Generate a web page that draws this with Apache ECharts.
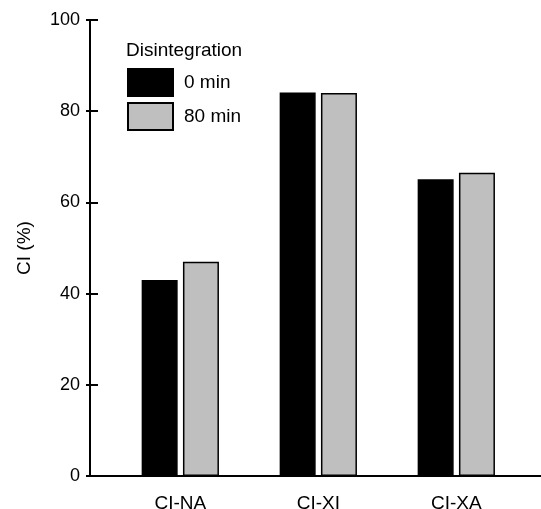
<!DOCTYPE html>
<html>
<head>
<meta charset="utf-8">
<script src="https://cdn.jsdelivr.net/npm/echarts@6/dist/echarts.min.js"></script>
<style>
html,body{margin:0;padding:0;background:#fff;}
#chart{width:541px;height:509px;}
</style>
</head>
<body>
<div id="chart"></div>
<script>
var categories = ['CI-NA', 'CI-XI', 'CI-XA'];
var series0min = [43.0, 84.1, 65.1];
var series80min = [47.0, 84.0, 66.5];
var seriesNames = ['0 min', '80 min'];
var yTicks = { min: 0, max: 100, interval: 20 };
var legendTitle = 'Disintegration';
var yName = 'CI (%)';

var FONT = 'Liberation Sans, Arial, Helvetica, sans-serif';
var chart = echarts.init(document.getElementById('chart'), null, { renderer: 'canvas' });

var option = {
  backgroundColor: '#fff',
  animation: false,
  textStyle: { fontFamily: FONT, color: '#000' },
  title: {
    text: legendTitle,
    left: 126, top: 41, padding: 0,
    textStyle: { fontFamily: FONT, fontSize: 19, fontWeight: 'normal', color: '#000' }
  },
  legend: {
    orient: 'vertical',
    left: 127, top: 68, padding: 0,
    itemWidth: 45, itemHeight: 27,
    itemGap: 5,
    icon: 'rect',
    textStyle: { fontFamily: FONT, fontSize: 19, color: '#000', padding: [0, 0, 0, 6] },
    data: seriesNames
  },
  grid: [
    { left: 90, top: 20, right: -1, bottom: 33, outerBoundsMode: 'none', containLabel: false },
    { left: 111.3, top: 20, width: 414, bottom: 33, outerBoundsMode: 'none', containLabel: false }
  ],
  xAxis: [
    { type: 'value', gridIndex: 0, position: 'bottom', min: 0, max: 1,
      axisLine: { show: true, lineStyle: { color: '#000', width: 2 } },
      axisTick: { show: false }, axisLabel: { show: false }, splitLine: { show: false } },
    { type: 'value', gridIndex: 0, position: 'top', min: 0, max: 1,
      axisLine: { show: true, lineStyle: { color: '#000', width: 2 } },
      axisTick: { show: false }, axisLabel: { show: false }, splitLine: { show: false } },
    { type: 'category', gridIndex: 1, data: categories,
      axisLine: { show: false }, axisTick: { show: false },
      axisLabel: { fontFamily: FONT, fontSize: 19, color: '#000', margin: 18 } }
  ],
  yAxis: [
    { type: 'value', gridIndex: 0, position: 'left', min: yTicks.min, max: yTicks.max, interval: yTicks.interval,
      name: yName, nameLocation: 'middle', nameGap: 56, nameRotate: 90,
      nameTextStyle: { fontFamily: FONT, fontSize: 19, color: '#000' },
      axisLine: { show: true, lineStyle: { color: '#000', width: 2 } },
      axisTick: { show: true, inside: true, length: 8, lineStyle: { color: '#000', width: 2 } },
      axisLabel: { fontFamily: FONT, fontSize: 18, color: '#000', margin: 10 },
      splitLine: { show: false } },
    { type: 'value', gridIndex: 0, position: 'right', min: yTicks.min, max: yTicks.max, interval: yTicks.interval,
      axisLine: { show: true, lineStyle: { color: '#000', width: 2 } },
      axisTick: { show: true, inside: true, length: 4, lineStyle: { color: '#000', width: 2 } },
      axisLabel: { show: false }, splitLine: { show: false } },
    { type: 'value', gridIndex: 1, min: yTicks.min, max: yTicks.max, show: false }
  ],
  series: [
    { name: seriesNames[0], type: 'bar', xAxisIndex: 2, yAxisIndex: 2,
      data: series0min, barWidth: 36, barGap: '14.7%',
      itemStyle: { color: '#000', borderColor: '#000', borderWidth: 1.5 } },
    { name: seriesNames[1], type: 'bar', xAxisIndex: 2, yAxisIndex: 2,
      data: series80min, barWidth: 36, barGap: '14.7%',
      itemStyle: { color: '#bfbfbf', borderColor: '#000', borderWidth: 1.5 } }
  ]
};
chart.setOption(option);
</script>
</body>
</html>
